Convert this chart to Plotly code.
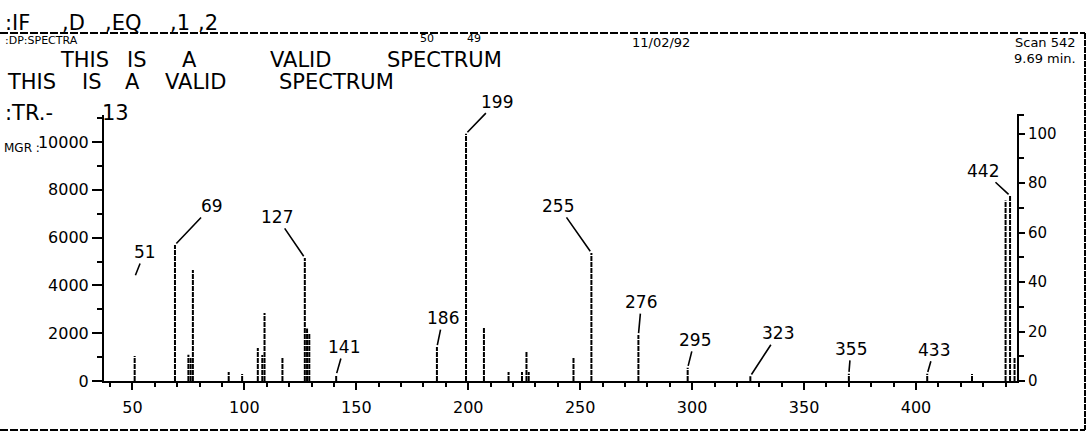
import plotly.graph_objects as go

# ---------------- data ----------------
masses = [51, 69, 75, 76, 77, 93, 99, 106, 108, 109, 117, 127, 128, 129, 141,
          186, 199, 207, 218, 224, 226, 227, 247, 255, 276, 298, 326, 370,
          405, 425, 440, 442, 444]
heights = [1050, 5690, 1100, 1000, 4640, 380, 290, 1380, 1090, 2850, 1000,
           5150, 2200, 2000, 250, 1420, 10350, 2260, 380, 380, 1210, 380, 960,
           5360, 1920, 550, 200, 300, 300, 290, 7550, 7750, 1000]

label_text = ["51", "69", "127", "141", "186", "199", "255", "276", "295",
              "323", "355", "433", "442"]
label_mass = [51, 69, 127, 141, 186, 199, 255, 276, 298, 326, 370, 405, 442]
label_level = [4350, 5690, 5150, 250, 1420, 10350, 5360, 1920, 550, 200, 300,
               300, 7750]
label_dx = [10, 37, -28, 8, 6, 31, -33, 3, 7, 28, 2, 7, -27]
label_dy = [-25, -39, -41, -28, -29, -32, -47, -33, -28, -43, -25, -24, -25]

x_ticks = [50, 100, 150, 200, 250, 300, 350, 400]
y_ticks = [0, 2000, 4000, 6000, 8000, 10000]
pct_ticks = [0, 20, 40, 60, 80, 100]

x_range = [37.3, 445.1]
y_top = 11130

# ---------------- layout helpers ----------------
W, H = 1090, 444
L, R, T, B = 104, 1017, 115, 381
FONT = "DejaVu Sans"


def px(x):
    return (x - L) / (R - L)


def py(y):
    return (B - y) / (B - T)


base_peak = max(heights)

xs, ys = [], []
for m, h in zip(masses, heights):
    xs += [m, m, None]
    ys += [0, h, None]

fig = go.Figure()
fig.add_trace(go.Scatter(x=xs, y=ys, mode="lines",
                         line=dict(color="black", width=2, dash="5px,1px"),
                         hoverinfo="skip", showlegend=False))
fig.add_trace(go.Scatter(x=[masses[0]], y=[0], yaxis="y2", mode="markers",
                         marker=dict(opacity=0), hoverinfo="skip",
                         showlegend=False))

annotations = []
for t, m, lv, dx, dy in zip(label_text, label_mass, label_level, label_dx, label_dy):
    annotations.append(dict(x=m, y=lv, xref="x", yref="y", text=t,
                            showarrow=True, arrowhead=0, arrowwidth=1.6,
                            arrowcolor="black", ax=dx, ay=dy, standoff=2,
                            font=dict(family=FONT, size=17, color="black")))


def txt(s, x, y, size=21, anchor="left"):
    annotations.append(dict(x=px(x), y=py(y), xref="paper", yref="paper",
                            text=s, showarrow=False, xanchor=anchor,
                            yanchor="middle",
                            font=dict(family=FONT, size=size, color="black")))


# header line 1
for w, x in [(":IF", 3), (",D", 60), (",EQ", 103), (",1", 168), (",2", 196)]:
    txt(w, x, 23)
# small overprinted header text
txt(":DP:SPECTRA", 3, 40, 11)
txt("50", 418, 39, 11)
txt("49", 465, 39, 11)
txt("11/02/92", 630, 42, 13)
txt("Scan 542", 1078, 42, 13, "right")
txt("9.69 min.", 1078, 58, 13, "right")
# line 2 (overprinted)
for w, x in [("THIS", 58), ("IS", 125), ("A", 180), ("VALID", 268), ("SPECTRUM", 385)]:
    txt(w, x, 60)
# line 3
for w, x in [("THIS", 5), ("IS", 80), ("A", 123), ("VALID", 163), ("SPECTRUM", 277)]:
    txt(w, x, 82)
# line 4
txt(":TR.-", 3, 113)
txt("13", 100, 113)
txt("MGR :", 2, 148, 12)

shapes = [
    dict(type="line", xref="paper", yref="paper", x0=px(0), x1=px(1085),
         y0=py(33), y1=py(33), line=dict(color="black", width=2, dash="8px,2px")),
    dict(type="line", xref="paper", yref="paper", x0=px(0), x1=px(1085),
         y0=py(430), y1=py(430), line=dict(color="black", width=2, dash="8px,2px")),
    dict(type="line", xref="paper", yref="paper", x0=px(1085), x1=px(1085),
         y0=py(33), y1=py(430), line=dict(color="black", width=2, dash="6px,1px")),
    dict(type="line", xref="paper", yref="paper", x0=px(R), x1=px(R + 7),
         y0=py(T), y1=py(T), line=dict(color="black", width=2)),
]

fig.update_layout(
    width=W, height=H, autosize=False,
    margin=dict(l=L, r=W - R, t=T, b=H - B, pad=0),
    paper_bgcolor="white", plot_bgcolor="white",
    showlegend=False,
    annotations=annotations, shapes=shapes,
    xaxis=dict(range=x_range, tickvals=x_ticks,
               ticktext=[str(v) for v in x_ticks],
               ticks="outside", ticklen=7, tickwidth=2, tickcolor="black",
               ticklabelstandoff=4,
               minor=dict(dtick=10, tick0=0, ticks="outside", ticklen=4,
                          tickwidth=1.5, tickcolor="black", showgrid=False),
               showline=True, linecolor="black", linewidth=2,
               showgrid=False, zeroline=False,
               tickfont=dict(family=FONT, size=16, color="black")),
    yaxis=dict(range=[0, y_top], tickvals=y_ticks,
               ticktext=[str(v) for v in y_ticks],
               ticks="outside", ticklen=10, tickwidth=2, tickcolor="black",
               minor=dict(dtick=1000, tick0=0, ticks="outside", ticklen=5,
                          tickwidth=1.5, tickcolor="black", showgrid=False),
               showline=True, linecolor="black", linewidth=2,
               showgrid=False, zeroline=False,
               tickfont=dict(family=FONT, size=16, color="black")),
    yaxis2=dict(range=[0, y_top / base_peak * 100], overlaying="y",
                side="right", anchor="x", tickvals=pct_ticks,
                ticktext=[str(v) for v in pct_ticks],
                ticks="outside", ticklen=6, tickwidth=2, tickcolor="black",
                minor=dict(dtick=10, tick0=0, ticks="outside", ticklen=5,
                           tickwidth=1.5, tickcolor="black", showgrid=False),
                showline=True, linecolor="black", linewidth=2,
                showgrid=False, zeroline=False,
                tickfont=dict(family=FONT, size=15, color="black")),
)

fig.write_html("out.html")
